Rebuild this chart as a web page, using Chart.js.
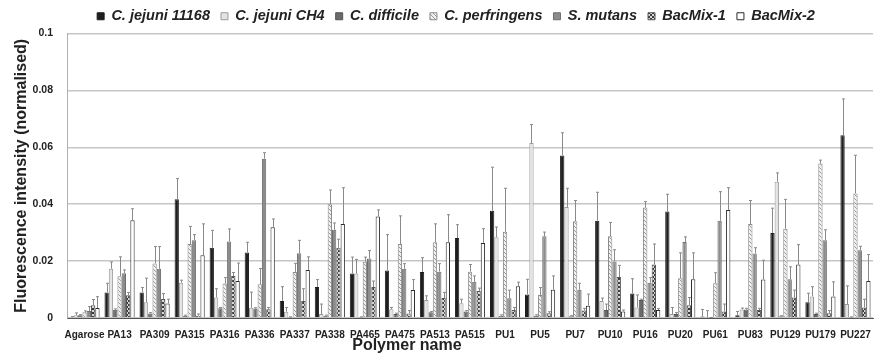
<!DOCTYPE html>
<html>
<head>
<meta charset="utf-8">
<script src="https://cdn.jsdelivr.net/npm/chart.js@4/dist/chart.umd.min.js"></script>
<style>
    html, body { margin: 0; padding: 0; background: #fff; }
    #wrap { width: 875px; height: 356px; }
</style>
</head>
<body>
<div id="wrap"><canvas id="fluo"></canvas></div>
<script>
const polymers = ['Agarose', 'PA13', 'PA309', 'PA315', 'PA316', 'PA336', 'PA337', 'PA338', 'PA465', 'PA475', 'PA513', 'PA515',
    'PU1', 'PU5', 'PU7', 'PU10', 'PU16', 'PU20', 'PU61', 'PU83', 'PU129', 'PU179', 'PU227'];

const jejuni11168 = [0.0003, 0.009, 0.009, 0.0417, 0.0247, 0.023, 0.006, 0.0109, 0.0156, 0.0167, 0.0162, 0.0281,
    0.0377, 0.0083, 0.0571, 0.0342, 0.0086, 0.0374, 0.0005, 0.001, 0.0299, 0.0055, 0.0642];
const jejuni11168Err = [0.0002, 0.0032, 0.0017, 0.0073, 0.0061, 0.0036, 0.005, 0.0026, 0.0058, 0.0126, 0.005, 0.0047,
    0.0153, 0.0053, 0.008, 0.01, 0.0052, 0.0061, 0.0025, 0.0013, 0.0087, 0.0032, 0.0128];

const jejuniCH4 = [0.001, 0.0173, 0.0055, 0.0124, 0.0072, 0.0036, 0.0022, 0.0014, 0.0156, 0.0031, 0.0063, 0.0052,
    0.0284, 0.0615, 0.039, 0.006, 0.0037, 0.0014, 0.0002, 0.003, 0.0479, 0.0076, 0.0049];
const jejuniCH4Err = [0.0008, 0.0024, 0.0085, 0.0009, 0.0031, 0.0055, 0.0015, 0.0035, 0.005, 0.0006, 0.0015, 0.0014,
    0.0036, 0.0065, 0.0066, 0.001, 0.0044, 0.0023, 0.0024, 0.0005, 0.0031, 0.0034, 0.0064];

const difficile = [0.001, 0.0029, 0.0016, 0.0008, 0.0034, 0.0033, 0.0002, 0.0008, 0.0002, 0.0014, 0.002, 0.0023,
    0.0008, 0.0008, 0.0006, 0.0028, 0.0063, 0.0014, 0.0001, 0.003, 0.0006, 0.0014, 0.0002];
const difficileErr = [0.0002, 0.0003, 0.0003, 0.0002, 0.0003, 0.0003, 0.0002, 0.0002, 0.0002, 0.0003, 0.0003, 0.0003,
    0.0003, 0.0003, 0.0002, 0.0021, 0.0003, 0.0005, 0.0001, 0.0004, 0.0002, 0.0003, 0.0002];

const perfringens = [0.002, 0.0147, 0.0192, 0.026, 0.0121, 0.0119, 0.0162, 0.04, 0.0198, 0.026, 0.0266, 0.0163,
    0.0303, 0.0081, 0.034, 0.0287, 0.0388, 0.014, 0.0122, 0.033, 0.0314, 0.0543, 0.0438];
const perfringensErr = [0.0005, 0.0068, 0.0059, 0.0062, 0.0021, 0.0055, 0.003, 0.005, 0.0016, 0.0099, 0.0065, 0.0025,
    0.0153, 0.0026, 0.0073, 0.0049, 0.0021, 0.0089, 0.0037, 0.0083, 0.0103, 0.0012, 0.0134];

const mutans = [0.0025, 0.0157, 0.0173, 0.0273, 0.0269, 0.056, 0.0228, 0.031, 0.0209, 0.0173, 0.0163, 0.0127,
    0.0069, 0.0287, 0.0099, 0.0199, 0.0124, 0.0267, 0.0342, 0.0227, 0.0136, 0.0273, 0.0238];
const mutansErr = [0.0015, 0.0012, 0.0078, 0.002, 0.0044, 0.0021, 0.0045, 0.0024, 0.0028, 0.0018, 0.0028, 0.0021,
    0.0029, 0.0015, 0.0023, 0.0041, 0.0018, 0.0018, 0.0102, 0.002, 0.0044, 0.0037, 0.0014];

const bacMix1 = [0.0045, 0.008, 0.0067, 0.0008, 0.0148, 0.0031, 0.006, 0.0247, 0.0109, 0.0016, 0.007, 0.0095,
    0.0028, 0.0017, 0.0026, 0.0144, 0.0188, 0.0045, 0.0023, 0.0028, 0.0072, 0.0017, 0.0037];
const bacMix1Err = [0.002, 0.001, 0.0019, 0.0006, 0.0012, 0.0006, 0.0043, 0.003, 0.0021, 0.001, 0.002, 0.001,
    0.0009, 0.0005, 0.0008, 0.0041, 0.0072, 0.0027, 0.0026, 0.0006, 0.0026, 0.0009, 0.0029];

const bacMix2 = [0.0035, 0.0344, 0.0051, 0.0221, 0.013, 0.0319, 0.0169, 0.033, 0.0357, 0.0098, 0.0266, 0.0264,
    0.0112, 0.0099, 0.0043, 0.0023, 0.0028, 0.0136, 0.038, 0.0135, 0.0188, 0.0076, 0.013];
const bacMix2Err = [0.004, 0.004, 0.0015, 0.011, 0.0063, 0.0029, 0.0046, 0.0128, 0.0023, 0.0037, 0.0097, 0.005,
    0.0014, 0.0049, 0.0041, 0.0005, 0.0005, 0.0093, 0.0078, 0.0068, 0.007, 0.0051, 0.0093];

const yTicks = [0, 0.02, 0.04, 0.06, 0.08, 0.1];
const xTitle = 'Polymer name';

const FONT = "'Liberation Sans', Arial, sans-serif";

// small repeating fills for the hatched series
function makePattern(kind) {
    const c = document.createElement('canvas');
    c.width = 4;
    c.height = 4;
    const g = c.getContext('2d');
    if (kind === 'hatch') {
        g.fillStyle = '#f0f0f0';
        g.fillRect(0, 0, 4, 4);
        g.fillStyle = '#9a9a9a';
        g.fillRect(0, 0, 1, 1);
        g.fillRect(1, 1, 1, 1);
        g.fillRect(2, 2, 1, 1);
        g.fillRect(3, 3, 1, 1);
    } else {
        g.fillStyle = '#d8d8d8';
        g.fillRect(0, 0, 4, 4);
        g.fillStyle = '#3a3a3a';
        g.fillRect(0, 0, 2, 2);
        g.fillRect(2, 2, 2, 2);
    }
    return g.createPattern(c, 'repeat');
}

const errorBars = {
    id: 'errorBars',
    afterDatasetsDraw(chart) {
        const ctx = chart.ctx;
        const yScale = chart.scales.y;
        ctx.save();
        ctx.strokeStyle = '#8a8a8a';
        ctx.lineWidth = 1;
        chart.data.datasets.forEach((ds, i) => {
            const meta = chart.getDatasetMeta(i);
            meta.data.forEach((bar, j) => {
                const top = yScale.getPixelForValue(ds.data[j] + ds.errors[j]);
                const x = Math.round(bar.x) + 0.5;
                ctx.beginPath();
                ctx.moveTo(x, bar.y);
                ctx.lineTo(x, top);
                ctx.moveTo(x - 1.5, top);
                ctx.lineTo(x + 1.5, top);
                ctx.stroke();
            });
        });
        ctx.restore();
    }
};

// x title sits left of centre in the original, under PA475
const xTitlePlugin = {
    id: 'xTitle',
    afterLayout(chart) {
        // nudge the legend a little left, like the original
        if (chart.legend) {
            chart.legend.left -= 14;
            chart.legend.right -= 14;
        }
    },
    afterDraw(chart) {
        const ctx = chart.ctx;
        const xs = chart.scales.x;
        ctx.save();
        ctx.font = 'bold 16px ' + FONT;
        ctx.fillStyle = '#222222';
        ctx.textAlign = 'center';
        ctx.textBaseline = 'middle';
        ctx.fillText(xTitle, xs.getPixelForValue(9.2), xs.bottom - 10);
        ctx.restore();
    }
};

function series(label, data, errors, fill, border) {
    return {
        label: label,
        data: data,
        errors: errors,
        backgroundColor: fill,
        borderColor: border,
        borderWidth: 1,
        borderSkipped: 'bottom'
    };
}

const ctx = document.getElementById('fluo').getContext('2d');
const chart = new Chart(ctx, {
    type: 'bar',
    data: {
        labels: polymers,
        datasets: [
            series('C. jejuni 11168', jejuni11168, jejuni11168Err, '#1e1e1e', '#1e1e1e'),
            series('C. jejuni CH4', jejuniCH4, jejuniCH4Err, '#e4e4e4', '#9a9a9a'),
            series('C. difficile', difficile, difficileErr, '#6a6a6a', '#555555'),
            series('C. perfringens', perfringens, perfringensErr, makePattern('hatch'), '#8a8a8a'),
            series('S. mutans', mutans, mutansErr, '#8c8c8c', '#6e6e6e'),
            series('BacMix-1', bacMix1, bacMix1Err, makePattern('check'), '#555555'),
            series('BacMix-2', bacMix2, bacMix2Err, '#ffffff', '#2a2a2a')
        ]
    },
    plugins: [errorBars, xTitlePlugin],
    options: {
        responsive: true,
        maintainAspectRatio: false,
        animation: false,
        layout: {
            padding: { left: 4, right: 2, top: -2, bottom: 0 }
        },
        datasets: {
            bar: {
                categoryPercentage: 0.86,
                barPercentage: 1.0
            }
        },
        scales: {
            x: {
                grid: { display: false },
                border: { display: true, color: '#555555', width: 1 },
                ticks: {
                    color: '#222222',
                    autoSkip: false,
                    maxRotation: 0,
                    padding: 3,
                    font: { family: FONT, size: 10, weight: 'bold' }
                },
                afterFit: s => { s.height = 38; }
            },
            y: {
                min: 0,
                max: 0.1,
                afterBuildTicks: s => { s.ticks = yTicks.map(v => ({ value: v })); },
                grid: { color: '#c6c6c6', lineWidth: 1.5, drawTicks: false },
                border: { display: true, color: '#b0b0b0', width: 1 },
                ticks: {
                    color: '#222222',
                    padding: 14,
                    font: { family: FONT, size: 10.5, weight: 'bold' },
                    callback: v => String(+v.toFixed(2))
                },
                title: {
                    display: true,
                    text: 'Fluorescence intensity (normalised)',
                    color: '#222222',
                    padding: { top: 8, bottom: 0 },
                    font: { family: FONT, size: 16, weight: 'bold' }
                },
                afterFit: s => { s.width = 63; }
            }
        },
        plugins: {
            legend: {
                position: 'top',
                fullSize: false,
                labels: {
                    color: '#222222',
                    boxWidth: 7,
                    boxHeight: 7,
                    padding: 11,
                    font: { family: FONT, size: 14.5, weight: 'bold', style: 'italic' }
                }
            },
            tooltip: { enabled: false }
        }
    }
});
</script>
</body>
</html>
